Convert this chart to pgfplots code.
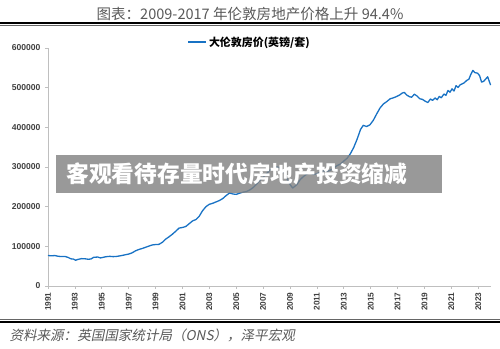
\documentclass[border=0pt]{standalone}
\usepackage{fontspec}
\setmainfont{Liberation Sans}
\newfontfamily\cjk{Noto Sans CJK SC}
\newfontfamily\cjksl{Noto Sans CJK SC}[FakeSlant=0.2]
\usepackage{pgfplots}
\pgfplotsset{compat=1.18}
\definecolor{lineblue}{RGB}{24,114,196}
\definecolor{axgray}{RGB}{191,191,191}
\definecolor{txtgray}{RGB}{89,89,89}
\definecolor{ticktxt}{RGB}{64,64,64}

% Greater London average house price, GBP
\pgfplotstableread{
year price
1991.00 77000
1991.25 76000
1991.50 76800
1991.75 75000
1992.00 74200
1992.25 74600
1992.50 72000
1992.70 68500
1992.90 67800
1993.05 65000
1993.25 67200
1993.50 69000
1993.75 68600
1994.00 67400
1994.20 68200
1994.40 72400
1994.70 73000
1994.90 70800
1995.10 72200
1995.30 73800
1995.60 74800
1995.85 74000
1996.10 74600
1996.40 76200
1996.70 78400
1997.00 80500
1997.25 83500
1997.50 88500
1997.75 92000
1998.00 94500
1998.25 97500
1998.50 100500
1998.75 103500
1999.00 104500
1999.25 105000
1999.50 110000
1999.75 118000
2000.00 124000
2000.25 130500
2000.50 138000
2000.75 146000
2001.00 147500
2001.25 150000
2001.50 157000
2001.75 164000
2002.00 167500
2002.25 176000
2002.50 190000
2002.75 200000
2003.00 206000
2003.25 208500
2003.50 212000
2003.75 215500
2004.00 220500
2004.25 228000
2004.50 234500
2004.75 232000
2005.00 231000
2005.25 234000
2005.50 236500
2005.75 238000
2006.00 242000
2006.25 248000
2006.50 256000
2006.75 266000
2007.00 274000
2007.25 283000
2007.50 292000
2007.75 297000
2008.00 300500
2008.25 298000
2008.50 290000
2008.75 272000
2009.00 256000
2009.20 247000
2009.50 255000
2009.75 268000
2010.00 276000
2010.25 282000
2010.50 285500
2010.75 281000
2011.00 283000
2011.25 287500
2011.50 290500
2011.75 288500
2012.00 292000
2012.25 297000
2012.50 303500
2012.75 307500
2013.00 315000
2013.25 322000
2013.50 334000
2013.75 350000
2014.00 371000
2014.25 395000
2014.45 405000
2014.70 402000
2014.95 406500
2015.20 418000
2015.45 434000
2015.70 449000
2015.95 459000
2016.20 465000
2016.45 472000
2016.70 474500
2016.95 478000
2017.15 481500
2017.35 486500
2017.50 488000
2017.70 481000
2017.90 477000
2018.05 476000
2018.25 483500
2018.45 479000
2018.65 472000
2018.85 470500
2019.05 466000
2019.25 462500
2019.45 471500
2019.60 468000
2019.80 474000
2019.95 469500
2020.10 478000
2020.25 474500
2020.45 484000
2020.60 480500
2020.75 493000
2020.90 488500
2021.05 497000
2021.20 491500
2021.35 505000
2021.50 500500
2021.65 507000
2021.80 509500
2021.95 512000
2022.15 518500
2022.30 521000
2022.45 533500
2022.60 543500
2022.75 538000
2022.95 536500
2023.10 530500
2023.25 514000
2023.40 516000
2023.55 521500
2023.70 527500
2023.80 518000
2023.92 506500
}\londondata

\begin{document}
\begin{tikzpicture}
\useasboundingbox (0bp,0bp) rectangle (500bp,349bp);
\begin{scope}[x=1bp,y=1bp]
% title and rules
\node[font=\cjk\fontsize{14.6}{16}\selectfont, text=txtgray] at (250,335) {图表：2009-2017 年伦敦房地产价格上升 94.4\%};
\fill[black] (0,325) rectangle (500,327.2);
\draw[black!60, line width=0.4bp] (0,324.1) -- (500,324.1);
\draw[black!60, line width=0.4bp] (0,29.8) -- (500,29.8);
\fill[black] (0,26) rectangle (500,28.2);
\node[font=\cjksl\fontsize{13.6}{15}\selectfont, text=txtgray, anchor=west] at (6,14) {资料来源：英国国家统计局（ONS），泽平宏观};
\end{scope}

\begin{axis}[
  at={(48bp,63bp)}, anchor=south west,
  scale only axis, width=443bp, height=238bp,
  xmin=1991, xmax=2023.95, ymin=0, ymax=600000,
  axis x line=bottom, axis y line=left,
  axis line style={axgray, line width=0.8bp, -},
  xtick={1991,1993,...,2023},
  ytick={0,100000,...,600000},
  tick style={axgray, line width=0.6bp},
  tick align=outside, major tick length=3bp,
  scaled y ticks=false,
  /pgf/number format/.cd, fixed, 1000 sep={}, assume math mode=true,
  /pgfplots/.cd,
  ticklabel style={text=ticktxt},
  x tick label style={rotate=90, anchor=east, font=\bfseries\fontsize{8.3}{9}\selectfont},
  y tick label style={font=\bfseries\fontsize{8.6}{9}\selectfont, xshift=-1bp},
  legend style={at={(0.455,1.025)}, anchor=center, draw=none, fill=none,
    font=\cjk\bfseries\fontsize{11}{12}\selectfont, legend cell align=left,
    inner sep=0pt},
  legend image code/.code={\draw[#1, line width=1.6bp] (0bp,0bp) -- (18bp,0bp);},
  clip=false,
]
\addplot[lineblue, line width=1.3bp, line join=round] table[x=year, y=price] {\londondata};
\addlegendentry{大伦敦房价(英镑/套)}
\end{axis}

\begin{scope}[x=1bp,y=1bp]
% caption banner
\fill[black!50, opacity=0.8] (56,156) rectangle (442,194);
\node[font=\cjk\bfseries\fontsize{22.8}{25}\selectfont, text=white, anchor=west] at (63,175.5) {客观看待存量时代房地产投资缩减};
\end{scope}
\end{tikzpicture}
\end{document}
